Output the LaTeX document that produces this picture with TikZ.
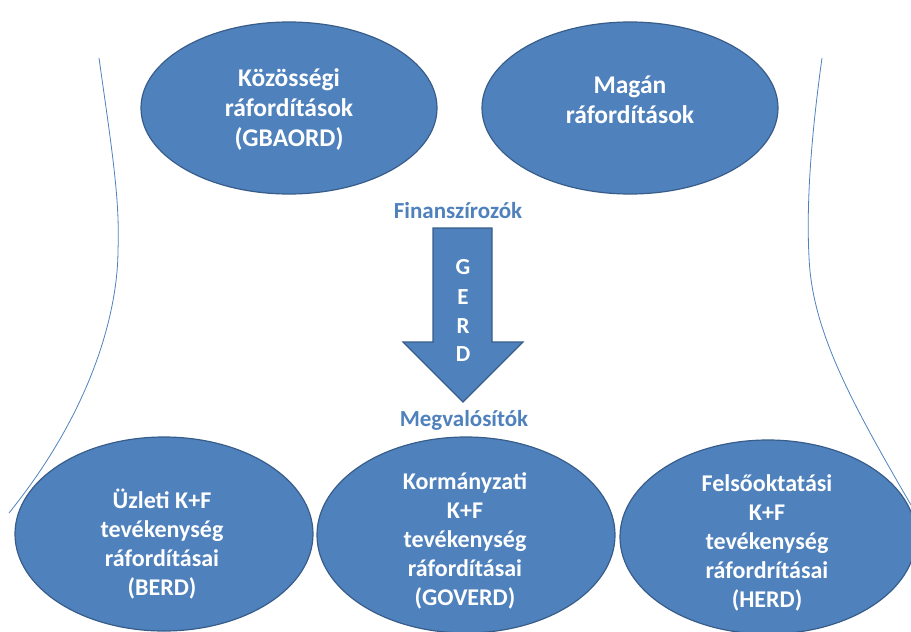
\documentclass[tikz,border=0pt]{standalone}
\usepackage{fontspec}
\setmainfont{Carlito}
\usetikzlibrary{positioning,shapes.geometric}
\definecolor{ofblue}{HTML}{4F81BD}
\definecolor{ofdark}{HTML}{385D8A}

\begin{document}
\begin{tikzpicture}[x=1pt,y=-1pt,
  kor/.style={ellipse,draw=ofdark,line width=1.2pt,fill=ofblue,inner sep=0pt},
  felso/.style={text=white,align=center,font=\bfseries\fontsize{25.5}{30}\selectfont},
  also/.style={text=white,align=center,font=\bfseries\fontsize{24}{29}\selectfont},
  cim/.style={text=ofblue,font=\bfseries\fontsize{23}{26}\selectfont}]
\useasboundingbox (0,0) rectangle (911,632);
% oldalso ivek
\draw[ofblue,line width=0.8pt] (99,58) .. controls (112,150) and (120,200) .. (118,250)
  .. controls (118,300) and (100,400) .. (9,513);
\draw[ofblue,line width=0.8pt] (822,58) .. controls (812,130) and (806,200) .. (809,257)
  .. controls (812,330) and (850,400) .. (911,505);
% finanszirozok
\node (gbaord) at (289,108) [kor,minimum width=296,minimum height=172] {};
\node (gbaordtxt) at (289,109) [felso] {Közösségi\\ráfordítások\\(GBAORD)};
\node (magan) at (630,108) [kor,minimum width=296,minimum height=172] {};
\node (magantxt) at (630,100) [felso] {Magán\\ráfordítások};
\node (fin) at (458,211) [cim] {Finanszírozók};
% GERD nyil
\draw[draw=ofdark,fill=ofblue,line width=1.2pt] (433,228) -- (492,228) -- (492,342) -- (523,342)
  -- (463,402) -- (403,342) -- (433,342) -- cycle;
\foreach \betu/\y in {G/267,E/297,R/326,D/354} {
    \node (gerd\betu) at (463,\y) [text=white,font=\bfseries\fontsize{23}{28}\selectfont] {\betu};
}
% megvalositok
\node (megv) at (464,420) [cim] {Megvalósítók};
\node (berd) at (164,534) [kor,minimum width=298,minimum height=194] {};
\node (berdtxt) at (162,544) [also] {Üzleti K+F\\tevékenység\\ráfordításai\\(BERD)};
\node (goverd) at (466,535) [kor,minimum width=298,minimum height=196] {};
\node (govtxt) at (465,541) [also] {Kormányzati\\K+F\\tevékenység\\ráfordításai\\(GOVERD)};
\node (herd) at (768,537) [kor,minimum width=296,minimum height=194] {};
\node (herdtxt) at (767,543) [also] {Felsőoktatási\\K+F\\tevékenység\\ráfordrításai\\(HERD)};
\end{tikzpicture}
\end{document}
